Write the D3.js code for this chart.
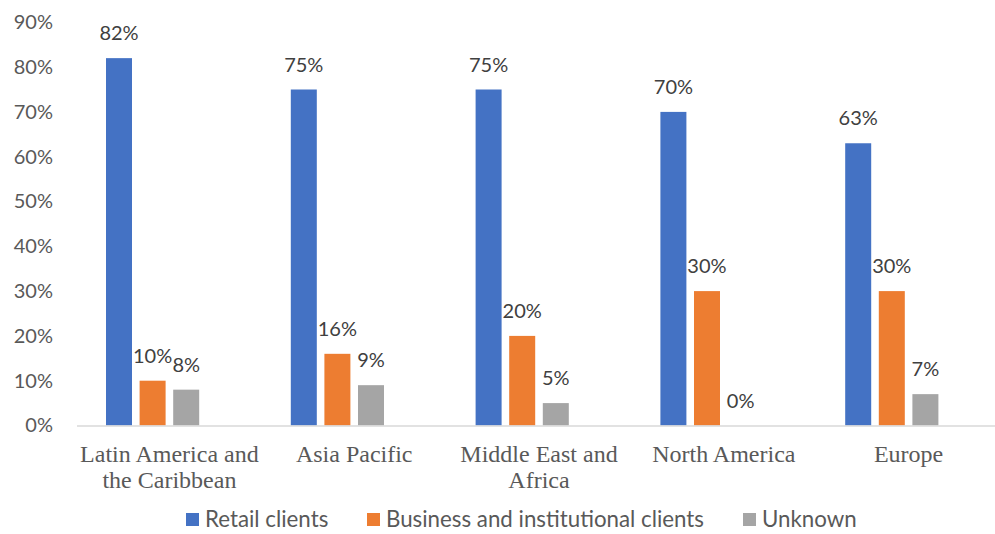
<!DOCTYPE html>
<html>
<head>
<meta charset="utf-8">
<script src="https://cdn.jsdelivr.net/npm/d3@7"></script>
<style>
  html, body { margin: 0; padding: 0; background: #fff; }
  svg { display: block; }
</style>
</head>
<body>
<svg id="chart" width="995" height="534"></svg>
<script>
// Regions and the share of each client type (percent)
const categories = [
  "Latin America and the Caribbean",
  "Asia Pacific",
  "Middle East and Africa",
  "North America",
  "Europe"
];
const seriesNames = ["Retail clients", "Business and institutional clients", "Unknown"];
const retailValues = [82, 75, 75, 70, 63];
const businessValues = [10, 16, 20, 30, 30];
const unknownValues = [8, 9, 5, 0, 7];
const yTicks = [0, 10, 20, 30, 40, 50, 60, 70, 80, 90];
const colors = ["#4472C4", "#ED7D31", "#A5A5A5"];

const seriesValues = [retailValues, businessValues, unknownValues];

const svg = d3.select("#chart");
const textColor = "#595959";
const sansFont = "Lato, 'Open Sans', sans-serif";
const serifFont = "'Liberation Serif', 'Times New Roman', serif";

const plotLeft = 77, plotRight = 1001;
const y = d3.scaleLinear().domain([0, 90]).range([425.5, 22.3]);

const x0 = d3.scaleBand()
  .domain(categories)
  .range([plotLeft, plotRight])
  .paddingInner(0)
  .paddingOuter(0);

// four slots per group; the last slot stays empty
const barW = 26, barGap = 7.6;
const groupInnerWidth = 4 * barW + 3 * barGap;
const x1 = d3.scaleBand()
  .domain([0, 1, 2, 3])
  .range([(x0.bandwidth() - groupInnerWidth) / 2, (x0.bandwidth() + groupInnerWidth) / 2])
  .paddingInner(barGap / (barW + barGap))
  .paddingOuter(0);

// y tick labels
const yAxisG = svg.append("g")
  .attr("transform", `translate(${plotLeft - 24},0)`)
  .call(d3.axisLeft(y).tickValues(yTicks).tickFormat(d => d + "%").tickSize(0).tickPadding(0));
yAxisG.select(".domain").remove();
yAxisG.selectAll("text")
  .attr("fill", textColor)
  .style("font-family", sansFont)
  .style("font-size", "20px");

// bars
const groups = svg.append("g").selectAll("g")
  .data(categories)
  .join("g")
  .attr("transform", d => `translate(${x0(d)},0)`);

groups.selectAll("rect")
  .data((d, i) => seriesValues.map((vals, s) => ({ s, v: vals[i] })))
  .join("rect")
  .attr("x", d => x1(d.s))
  .attr("width", x1.bandwidth())
  .attr("y", d => y(d.v))
  .attr("height", d => y(0) - y(d.v))
  .attr("fill", d => colors[d.s]);

// value labels
groups.selectAll("text.val")
  .data((d, i) => seriesValues.map((vals, s) => ({ s, v: vals[i] })))
  .join("text")
  .attr("class", "val")
  .attr("x", d => x1(d.s) + x1.bandwidth() / 2)
  .attr("y", d => y(d.v) - 18)
  .attr("text-anchor", "middle")
  .attr("fill", "#404040")
  .style("font-family", sansFont)
  .style("font-size", "20px")
  .text(d => d.v + "%");

// baseline
svg.append("line")
  .attr("x1", plotLeft).attr("x2", plotRight)
  .attr("y1", y(0) + 0.5).attr("y2", y(0) + 0.5)
  .attr("stroke", "#D9D9D9")
  .attr("stroke-width", 1.5);

// category labels, wrapped to the group width
const xAxisG = svg.append("g")
  .attr("transform", `translate(0,${y(0)})`)
  .call(d3.axisBottom(x0).tickSize(0).tickPadding(0));
xAxisG.select(".domain").remove();
xAxisG.selectAll("text")
  .attr("fill", textColor)
  .style("font-family", serifFont)
  .style("font-size", "24px")
  .attr("dy", null)
  .attr("y", 36)
  .each(function (d) {
    const t = d3.select(this);
    const words = d.split(" ");
    t.text(null);
    let line = [];
    let lineNo = 0;
    let tspan = t.append("tspan").attr("x", 0).attr("y", 36);
    for (const w of words) {
      line.push(w);
      tspan.text(line.join(" "));
      if (tspan.node().getComputedTextLength() > x0.bandwidth() - 2 && line.length > 1) {
        line.pop();
        tspan.text(line.join(" "));
        line = [w];
        lineNo++;
        tspan = t.append("tspan").attr("x", 0).attr("y", 36 + lineNo * 26.7).text(w);
      }
    }
  });

// legend
const legendItems = [
  { name: seriesNames[0], color: colors[0], x: 186 },
  { name: seriesNames[1], color: colors[1], x: 367 },
  { name: seriesNames[2], color: colors[2], x: 743 }
];
const legend = svg.append("g");
const li = legend.selectAll("g").data(legendItems).join("g")
  .attr("transform", d => `translate(${d.x},519.5)`);
li.append("rect")
  .attr("x", 0).attr("y", -6.5)
  .attr("width", 13).attr("height", 13)
  .attr("fill", d => d.color);
li.append("text")
  .attr("x", 19)
  .attr("y", 0)
  .attr("dy", "0.35em")
  .attr("fill", textColor)
  .style("font-family", sansFont)
  .style("font-size", "22.3px")
  .text(d => d.name);
</script>
</body>
</html>
